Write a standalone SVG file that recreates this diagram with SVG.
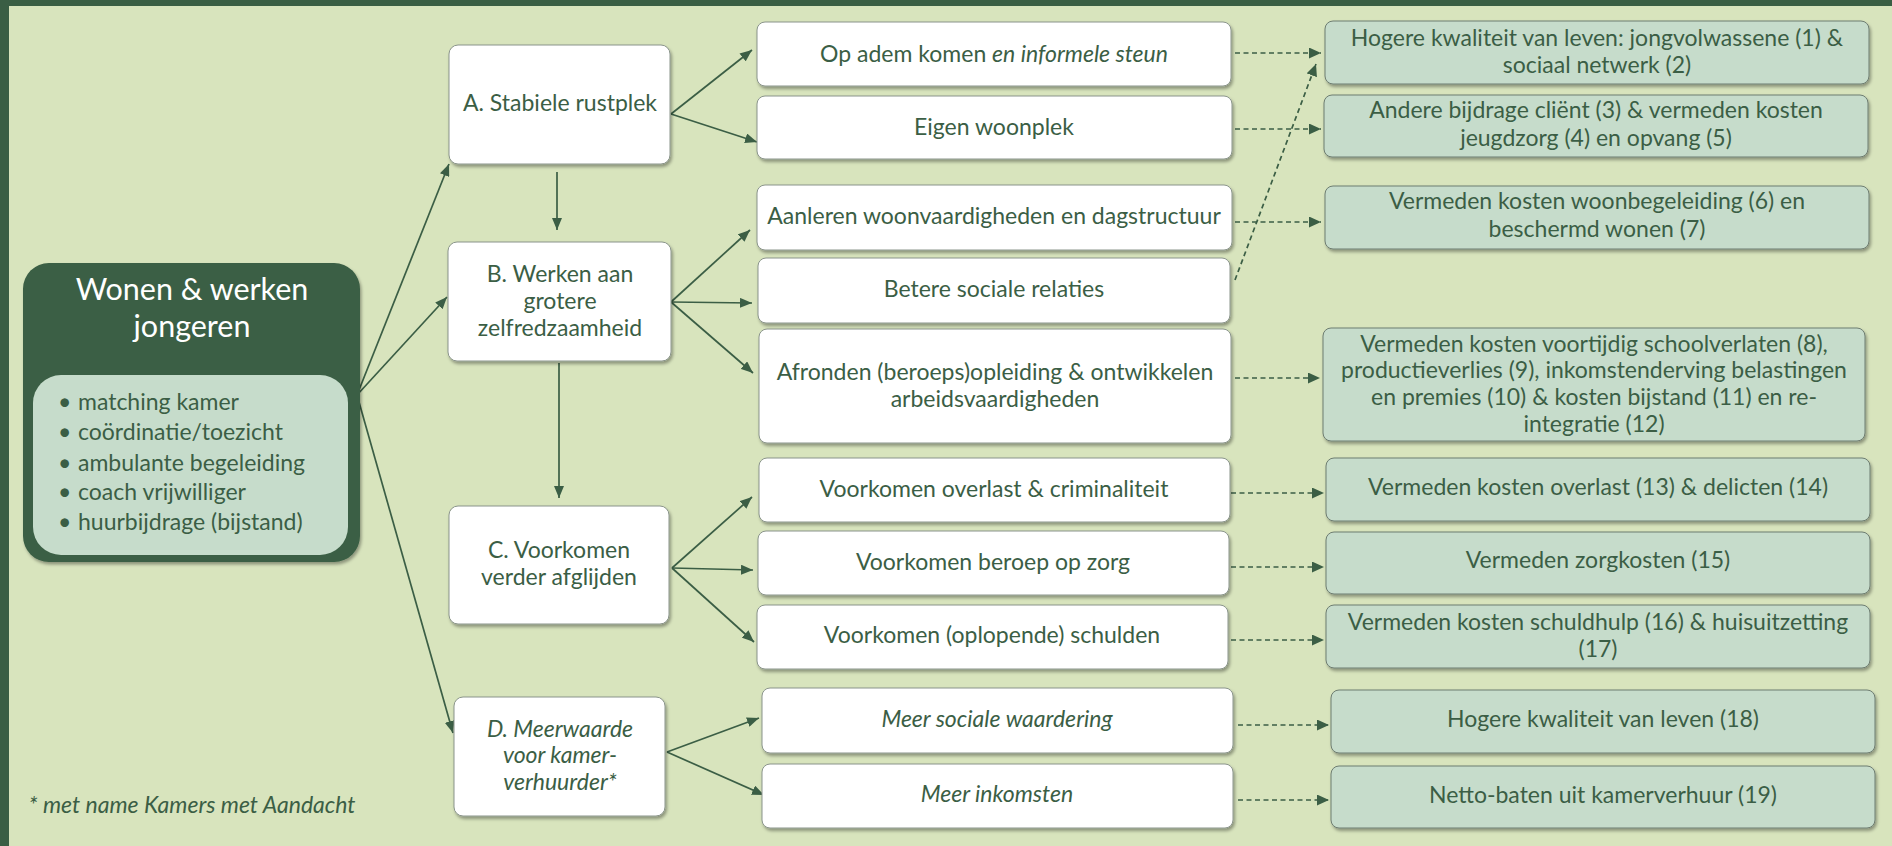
<svg xmlns="http://www.w3.org/2000/svg" width="1892" height="846" viewBox="0 0 1892 846">
<defs>
<style>
.t{font-family:Lato,"Liberation Sans",sans-serif;font-size:23px;fill:#3b5e45;text-anchor:middle}
.it{font-style:italic}
.wbox{fill:#ffffff;stroke:#8a948b;stroke-width:1;filter:url(#sh)}
.gbox{fill:#c6dccb;stroke:#6d7c70;stroke-width:1;filter:url(#sh)}
.ln{fill:none;stroke:#3b5e45;stroke-width:1.7;marker-end:url(#ah)}
.ds{fill:none;stroke:#3b5e45;stroke-width:1.7;stroke-dasharray:5 3.5;marker-end:url(#ah2)}
</style>
<filter id="sh" x="-5%" y="-10%" width="110%" height="130%">
<feDropShadow dx="1.5" dy="2.5" stdDeviation="1.5" flood-color="#000" flood-opacity="0.35"/>
</filter>
<marker id="ah" viewBox="0 0 12 10" refX="12" refY="5" markerWidth="12" markerHeight="10" markerUnits="userSpaceOnUse" orient="auto">
<path d="M0,0 L12,5 L0,10 z" fill="#3b5e45"/>
</marker>
<marker id="ah2" viewBox="0 0 12 11" refX="12" refY="5.5" markerWidth="12" markerHeight="11" markerUnits="userSpaceOnUse" orient="auto">
<path d="M0,0 L12,5.5 L0,11 z" fill="#3b5e45"/>
</marker>
</defs>
<rect x="0" y="0" width="1892" height="846" fill="#d8e4bd"/>
<rect x="0" y="0" width="1892" height="6" fill="#3a5e44"/>
<rect x="0" y="0" width="9" height="846" fill="#3a5e44"/>

<g id="connectors">
<line class="ln" x1="357" y1="395" x2="449" y2="164"/>
<line class="ln" x1="357" y1="395" x2="447" y2="297"/>
<line class="ln" x1="357" y1="395" x2="453" y2="733"/>
<line class="ln" x1="557" y1="172" x2="557" y2="230"/>
<line class="ln" x1="559" y1="363" x2="559" y2="498"/>
<line class="ln" x1="671" y1="114" x2="752" y2="50"/>
<line class="ln" x1="671" y1="114" x2="757" y2="142"/>
<line class="ln" x1="671" y1="302" x2="750" y2="230"/>
<line class="ln" x1="671" y1="302" x2="752" y2="303"/>
<line class="ln" x1="671" y1="302" x2="753" y2="373"/>
<line class="ln" x1="672" y1="568" x2="752" y2="497"/>
<line class="ln" x1="672" y1="568" x2="753" y2="570"/>
<line class="ln" x1="672" y1="568" x2="754" y2="642"/>
<line class="ln" x1="667" y1="752" x2="759" y2="718"/>
<line class="ln" x1="667" y1="752" x2="764" y2="795"/>
<line class="ds" x1="1235" y1="53" x2="1321" y2="53"/>
<line class="ds" x1="1235" y1="129" x2="1321" y2="129"/>
<line class="ds" x1="1235" y1="222" x2="1321" y2="222"/>
<line class="ds" x1="1235" y1="280" x2="1316" y2="64"/>
<line class="ds" x1="1235" y1="378" x2="1320" y2="378"/>
<line class="ds" x1="1231" y1="493" x2="1324" y2="493"/>
<line class="ds" x1="1231" y1="567" x2="1324" y2="567"/>
<line class="ds" x1="1231" y1="640" x2="1324" y2="640"/>
<line class="ds" x1="1238" y1="725" x2="1329" y2="725"/>
<line class="ds" x1="1238" y1="800" x2="1329" y2="800"/>
</g>

<g id="main">
<rect x="23" y="263" width="337" height="299" rx="26" fill="#3a5e44" filter="url(#sh)"/>
<text x="192" y="300" font-family="Lato,'Liberation Sans',sans-serif" font-size="30.5" fill="#ffffff" text-anchor="middle">Wonen &amp; werken</text>
<text x="192" y="337" font-family="Lato,'Liberation Sans',sans-serif" font-size="30.5" fill="#ffffff" text-anchor="middle">jongeren</text>
<rect x="33" y="375" width="315" height="180" rx="28" fill="#c6dccb"/>
<g font-family="Lato,'Liberation Sans',sans-serif" font-size="23" fill="#3b5e45">
<text x="58" y="410">•</text><text x="78" y="410">matching kamer</text>
<text x="58" y="440">•</text><text x="78" y="440">coördinatie/toezicht</text>
<text x="58" y="471">•</text><text x="78" y="471">ambulante begeleiding</text>
<text x="58" y="500">•</text><text x="78" y="500">coach vrijwilliger</text>
<text x="58" y="530">•</text><text x="78" y="530">huurbijdrage (bijstand)</text>
</g>
</g>

<g id="nodeA"><rect class="wbox" x="449" y="45" width="221" height="119" rx="9"/>
<text class="t" x="560" y="111">A. Stabiele rustplek</text></g>
<g id="nodeB"><rect class="wbox" x="448" y="242" width="223" height="119" rx="9"/>
<text class="t" x="560" y="282">B. Werken aan</text>
<text class="t" x="560" y="309">grotere</text>
<text class="t" x="560" y="336">zelfredzaamheid</text></g>
<g id="nodeC"><rect class="wbox" x="449" y="506" width="220" height="118" rx="9"/>
<text class="t" x="559" y="558">C. Voorkomen</text>
<text class="t" x="559" y="585">verder afglijden</text></g>
<g id="nodeD"><rect class="wbox" x="454" y="697" width="211" height="119" rx="9"/>
<text class="t it" x="560" y="737">D. Meerwaarde</text>
<text class="t it" x="560" y="763">voor kamer-</text>
<text class="t it" x="560" y="790">verhuurder*</text></g>

<g id="m1"><rect class="wbox" x="757" y="22" width="474" height="64" rx="8"/>
<text class="t" x="994" y="62">Op adem komen <tspan class="it">en informele steun</tspan></text></g>
<g id="m2"><rect class="wbox" x="757" y="96" width="475" height="63" rx="8"/>
<text class="t" x="994" y="135">Eigen woonplek</text></g>
<g id="m3"><rect class="wbox" x="757" y="185" width="475" height="65" rx="8"/>
<text class="t" x="994" y="224">Aanleren woonvaardigheden en dagstructuur</text></g>
<g id="m4"><rect class="wbox" x="758" y="258" width="472" height="65" rx="8"/>
<text class="t" x="994" y="297">Betere sociale relaties</text></g>
<g id="m5"><rect class="wbox" x="759" y="329" width="472" height="114" rx="8"/>
<text class="t" x="995" y="380">Afronden (beroeps)opleiding &amp; ontwikkelen</text>
<text class="t" x="995" y="407">arbeidsvaardigheden</text></g>
<g id="m6"><rect class="wbox" x="759" y="458" width="471" height="64" rx="8"/>
<text class="t" x="994" y="497">Voorkomen overlast &amp; criminaliteit</text></g>
<g id="m7"><rect class="wbox" x="758" y="531" width="471" height="64" rx="8"/>
<text class="t" x="993" y="570">Voorkomen beroep op zorg</text></g>
<g id="m8"><rect class="wbox" x="757" y="605" width="471" height="64" rx="8"/>
<text class="t" x="992" y="643">Voorkomen (oplopende) schulden</text></g>
<g id="m9"><rect class="wbox" x="762" y="688" width="471" height="65" rx="8"/>
<text class="t it" x="997" y="727">Meer sociale waardering</text></g>
<g id="m10"><rect class="wbox" x="762" y="764" width="471" height="64" rx="8"/>
<text class="t it" x="997" y="802">Meer inkomsten</text></g>

<g id="r1"><rect class="gbox" x="1325" y="21" width="544" height="63" rx="8"/>
<text class="t" x="1597" y="46">Hogere kwaliteit van leven: jongvolwassene (1) &amp;</text>
<text class="t" x="1597" y="73">sociaal netwerk (2)</text></g>
<g id="r2"><rect class="gbox" x="1324" y="95" width="544" height="62" rx="8"/>
<text class="t" x="1596" y="118">Andere bijdrage cliënt (3) &amp; vermeden kosten</text>
<text class="t" x="1596" y="146">jeugdzorg (4) en opvang (5)</text></g>
<g id="r3"><rect class="gbox" x="1325" y="186" width="544" height="63" rx="8"/>
<text class="t" x="1597" y="209">Vermeden kosten woonbegeleiding (6) en</text>
<text class="t" x="1597" y="237">beschermd wonen (7)</text></g>
<g id="r5"><rect class="gbox" x="1323" y="328" width="542" height="113" rx="8"/>
<text class="t" x="1594" y="352">Vermeden kosten voortijdig schoolverlaten (8),</text>
<text class="t" x="1594" y="378">productieverlies (9), inkomstenderving belastingen</text>
<text class="t" x="1594" y="405">en premies (10) &amp; kosten bijstand (11) en re-</text>
<text class="t" x="1594" y="432">integratie (12)</text></g>
<g id="r6"><rect class="gbox" x="1326" y="458" width="544" height="63" rx="8"/>
<text class="t" x="1598" y="495">Vermeden kosten overlast (13) &amp; delicten (14)</text></g>
<g id="r7"><rect class="gbox" x="1326" y="532" width="544" height="62" rx="8"/>
<text class="t" x="1598" y="568">Vermeden zorgkosten (15)</text></g>
<g id="r8"><rect class="gbox" x="1326" y="605" width="544" height="63" rx="8"/>
<text class="t" x="1598" y="630">Vermeden kosten schuldhulp (16) &amp; huisuitzetting</text>
<text class="t" x="1598" y="657">(17)</text></g>
<g id="r9"><rect class="gbox" x="1331" y="690" width="544" height="63" rx="8"/>
<text class="t" x="1603" y="727">Hogere kwaliteit van leven (18)</text></g>
<g id="r10"><rect class="gbox" x="1331" y="766" width="544" height="62" rx="8"/>
<text class="t" x="1603" y="803">Netto-baten uit kamerverhuur (19)</text></g>

<text class="t it" x="192" y="813">* met name Kamers met Aandacht</text>
</svg>
